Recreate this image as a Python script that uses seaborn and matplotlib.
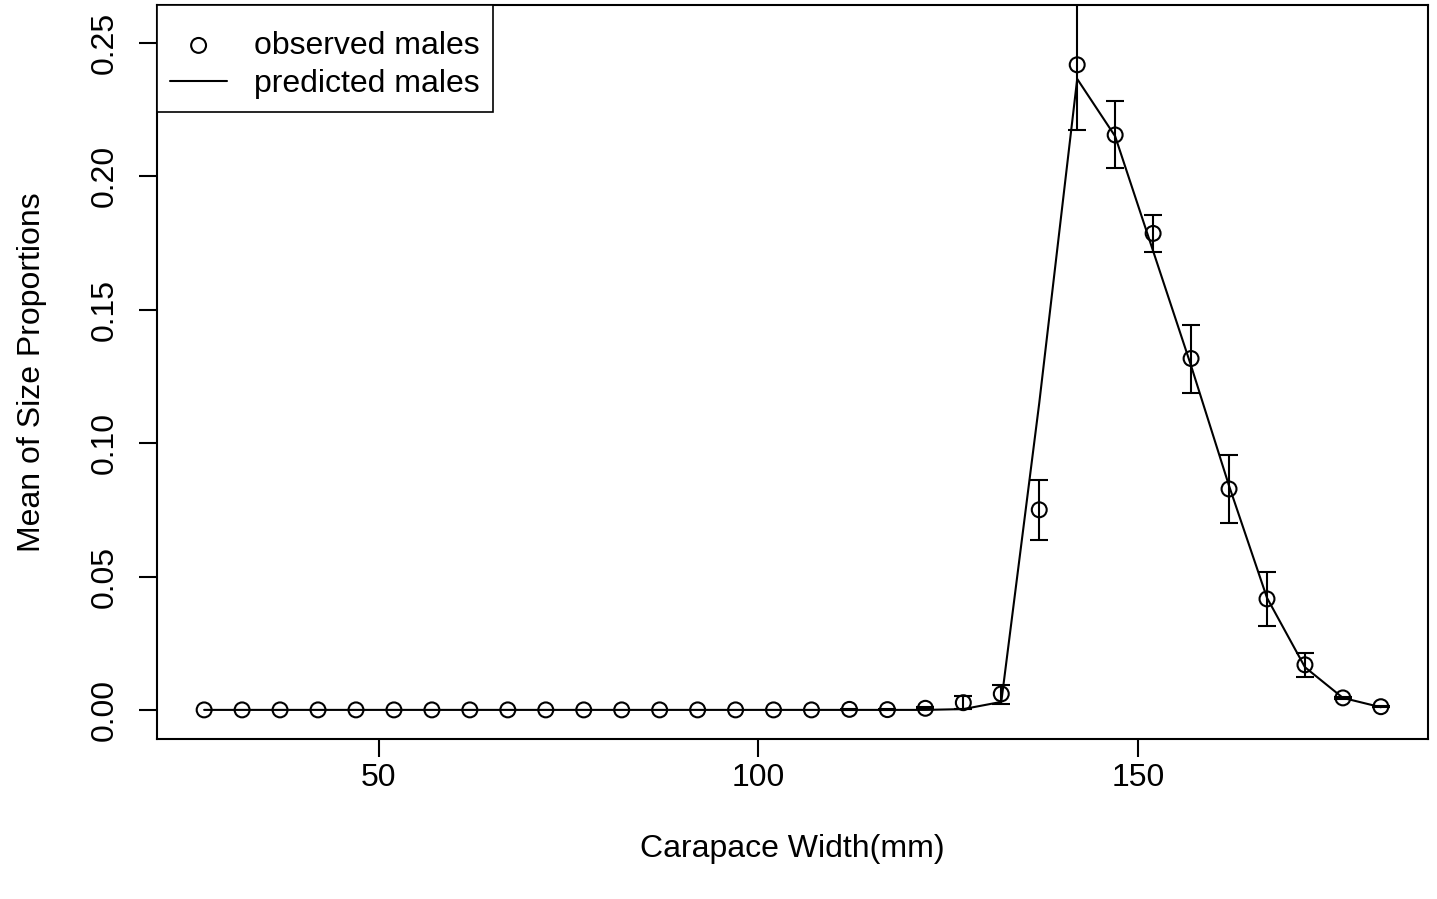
# Size-proportion plot: observed vs predicted males
import numpy as np
import pandas as pd
import matplotlib
matplotlib.use('Agg')
import matplotlib.pyplot as plt
import seaborn as sns

# Data
width_mm = [27, 32, 37, 42, 47, 52, 57, 62, 67, 72, 77, 82, 87, 92, 97, 102,
            107, 112, 117, 122, 127, 132, 137, 142, 147, 152, 157, 162, 167,
            172, 177, 182]
observed = [0, 0, 0, 0, 0, 0, 0, 0, 0, 0, 0, 0, 0, 0, 0, 0,
            0, 0.0002, 0.0001, 0.0006, 0.0027, 0.0060, 0.0750, 0.2418, 0.2155,
            0.1786, 0.1317, 0.0828, 0.0416, 0.0169, 0.0045, 0.0012]
obs_low = [0, 0, 0, 0, 0, 0, 0, 0, 0, 0, 0, 0, 0, 0, 0, 0,
           0, 0.0001, 0.0000, 0.0003, 0.0002, 0.0022, 0.0637, 0.2174, 0.2031,
           0.1717, 0.1188, 0.0701, 0.0315, 0.0124, 0.0040, 0.0009]
obs_high = [0, 0, 0, 0, 0, 0, 0, 0, 0, 0, 0, 0, 0, 0, 0, 0,
            0, 0.0003, 0.0002, 0.0009, 0.0052, 0.0094, 0.0862, 0.2662, 0.2283,
            0.1855, 0.1443, 0.0956, 0.0517, 0.0214, 0.0050, 0.0015]
predicted = [0, 0, 0, 0, 0, 0, 0, 0, 0, 0, 0, 0, 0, 0, 0, 0,
             0, 0, 0, 0, 0.0003, 0.0030, 0.1150, 0.2365, 0.2150,
             0.1720, 0.1290, 0.0840, 0.0420, 0.0160, 0.0045, 0.0010]

df = pd.DataFrame({'width': width_mm, 'observed': observed,
                   'low': obs_low, 'high': obs_high, 'predicted': predicted})

sns.set_style('ticks')
plt.rcParams['font.family'] = ['Liberation Sans', 'DejaVu Sans']
plt.rcParams['text.color'] = 'black'
plt.rcParams['axes.labelcolor'] = 'black'
plt.rcParams['xtick.color'] = 'black'
plt.rcParams['ytick.color'] = 'black'

fs = 23

fig = plt.figure(figsize=(14.37, 8.99), dpi=100)
ax = fig.add_axes([0.1093, 0.178, 0.8844, 0.8164])

# error bars only where the interval has some length
eb = df[df['high'] > df['low']]
ax.errorbar(eb['width'], eb['observed'],
            yerr=[eb['observed'] - eb['low'], eb['high'] - eb['observed']],
            fmt='none', ecolor='black', elinewidth=1.5, capsize=6.5,
            capthick=1.5, zorder=2)

sns.lineplot(data=df, x='width', y='predicted', color='black', linewidth=1.5,
             ax=ax, label='predicted males', zorder=3)
sns.scatterplot(data=df, x='width', y='observed', marker='o', s=115,
                facecolor='none', edgecolor='black', linewidth=1.5, ax=ax,
                label='observed males', zorder=4)

ax.set_xlim(20.8, 188.2)
ax.set_ylim(-0.0109, 0.2642)
ax.set_xticks([50, 100, 150])
ax.set_yticks([0.0, 0.05, 0.10, 0.15, 0.20, 0.25])
ax.set_yticklabels(['0.00', '0.05', '0.10', '0.15', '0.20', '0.25'],
                   rotation=90, va='center')
ax.tick_params(axis='both', labelsize=fs, length=13, width=1.5,
               color='black', labelcolor='black')
ax.tick_params(axis='x', pad=4)
ax.tick_params(axis='y', pad=14)
ax.set_xlabel('Carapace Width(mm)', fontsize=fs, labelpad=30)
ax.set_ylabel('Mean of Size Proportions', fontsize=fs, labelpad=31)

for sp in ax.spines.values():
    sp.set_visible(True)
    sp.set_linewidth(1.5)
    sp.set_color('black')

# legend in R order: observed first; tiny blank title adds R-like top padding
handles, labels = ax.get_legend_handles_labels()
order = [labels.index('observed males'), labels.index('predicted males')]
leg = ax.legend([handles[i] for i in order], [labels[i] for i in order],
                loc='upper left', borderaxespad=0, fancybox=False,
                framealpha=1, edgecolor='black', fontsize=fs,
                handlelength=1.8, handletextpad=0.85, borderpad=0.4,
                labelspacing=0.25, title=' ', title_fontsize=4)
leg.get_frame().set_linewidth(1.2)
for t in leg.get_texts():
    t.set_color('black')

plt.savefig('out.png', dpi=100)
